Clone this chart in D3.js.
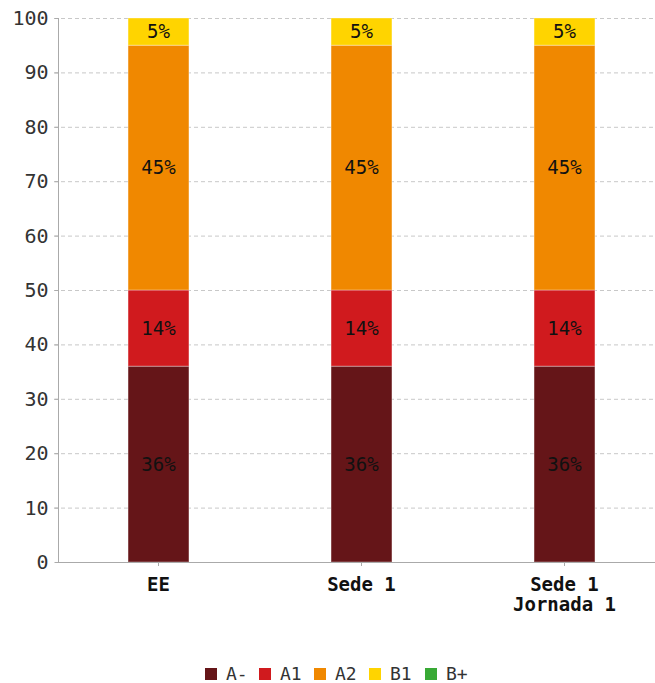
<!DOCTYPE html>
<html><head><meta charset="utf-8">
<script src="https://cdn.jsdelivr.net/npm/d3@7"></script>
<style>
body{margin:0;background:#fff;}
text{font-family:"DejaVu Sans Mono",monospace;}
</style></head>
<body><svg id="c" width="655" height="683"></svg>
<script>
const categories = ["EE", "Sede 1", "Sede 1\nJornada 1"];
const seriesNames = ["A-", "A1", "A2", "B1", "B+"];
const seriesColors = ["#651518", "#d01a1e", "#f08800", "#ffd400", "#38a935"];
const valuesAminus = [36, 36, 36];
const valuesA1 = [14, 14, 14];
const valuesA2 = [45, 45, 45];
const valuesB1 = [5, 5, 5];
const valuesBplus = [0, 0, 0];
const yTicks = [0, 10, 20, 30, 40, 50, 60, 70, 80, 90, 100];

(function(){
const allSeries = [valuesAminus, valuesA1, valuesA2, valuesB1, valuesBplus];
const rows = categories.map((c, i) => {
  const r = {cat: c};
  seriesNames.forEach((s, j) => r[s] = allSeries[j][i]);
  return r;
});
const stacked = d3.stack().keys(seriesNames)(rows);

const svg = d3.select("#c");
const pL = 58, pR = 655, pT = 18, pB = 562;
const x = d3.scaleBand().domain(categories).range([57, 666]).paddingInner(0.7).paddingOuter(0.35);
const y = d3.scaleLinear().domain([0, 100]).range([pB, pT]);

// grid
svg.append("g").selectAll("line").data(yTicks.filter(t => t > 0)).join("line")
  .attr("x1", pL - 4).attr("x2", pR)
  .attr("y1", d => y(d) + 0.5).attr("y2", d => y(d) + 0.5)
  .attr("stroke", "#c8c8c8").attr("stroke-dasharray", "4,3");

// y axis
const yAxis = d3.axisLeft(y).tickValues(yTicks).tickSize(4).tickPadding(6);
const gy = svg.append("g").attr("transform", `translate(${pL + 0.5},0)`).call(yAxis);
gy.select(".domain").remove();
gy.selectAll(".tick line").attr("stroke", "#aaa");
gy.selectAll(".tick text").attr("font-size", 20).attr("fill", "#333")
  .attr("font-family", "DejaVu Sans Mono");

// bars
const color = d3.scaleOrdinal().domain(seriesNames).range(seriesColors);
const layers = svg.append("g").selectAll("g").data(stacked).join("g")
  .attr("fill", d => color(d.key));
layers.selectAll("rect").data(d => d.filter(p => p[1] - p[0] > 0)).join("rect")
  .attr("x", d => x(d.data.cat))
  .attr("width", x.bandwidth())
  .attr("y", d => y(d[1]))
  .attr("height", d => y(d[0]) - y(d[1]))
  .attr("stroke", "rgba(255,255,255,0.35)").attr("stroke-width", 1);

// labels
const lab = svg.append("g");
stacked.forEach(layer => {
  layer.forEach(p => {
    const v = p[1] - p[0];
    if (v <= 0) return;
    lab.append("text")
      .attr("x", x(p.data.cat) + x.bandwidth() / 2)
      .attr("y", (y(p[0]) + y(p[1])) / 2)
      .attr("dy", "0.35em")
      .attr("text-anchor", "middle")
      .attr("font-size", 19).attr("fill", "#111")
      .text(v + "%");
  });
});

// axes lines
svg.append("line").attr("x1", pL).attr("x2", pR)
  .attr("y1", pB + 0.5).attr("y2", pB + 0.5).attr("stroke", "#aaa");
svg.append("line").attr("x1", pL + 0.5).attr("x2", pL + 0.5)
  .attr("y1", pT).attr("y2", pB).attr("stroke", "#aaa");
const xg = svg.append("g");
categories.forEach(c => {
  const cx = x(c) + x.bandwidth() / 2;
  xg.append("line").attr("x1", cx).attr("x2", cx).attr("y1", pB).attr("y2", pB + 4).attr("stroke", "#aaa");
  const t = xg.append("text").attr("x", cx).attr("y", pB + 29)
    .attr("text-anchor", "middle").attr("font-size", 19).attr("font-weight", "bold").attr("fill", "#111");
  c.split("\n").forEach((line, i) => {
    t.append("tspan").attr("x", cx).attr("dy", i === 0 ? 0 : 20).text(line);
  });
});

// legend
const leg = svg.append("g");
const legX = [205, 259, 314, 369, 425];
seriesNames.forEach((s, i) => {
  leg.append("rect").attr("x", legX[i]).attr("y", 668).attr("width", 12).attr("height", 12).attr("fill", seriesColors[i]);
  leg.append("text").attr("x", legX[i] + 21).attr("y", 674).attr("dy", "0.35em")
    .attr("font-size", 18).attr("fill", "#333").text(s);
});
})();
</script></body></html>
